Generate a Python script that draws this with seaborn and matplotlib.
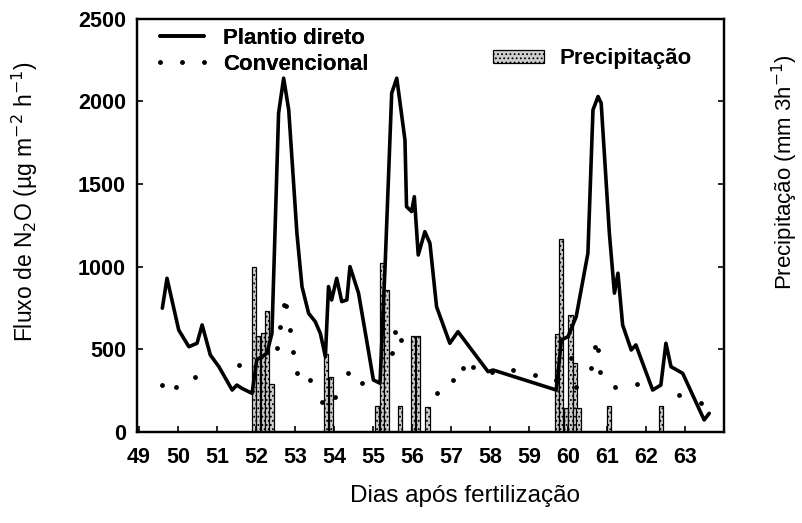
import numpy as np
import pandas as pd
import matplotlib
matplotlib.use("Agg")
import matplotlib.pyplot as plt
import seaborn as sns
from matplotlib.lines import Line2D

# Plantio direto (solid line)
pd_days = [49.60, 49.72, 50.02, 50.28, 50.49, 50.62, 50.83, 51.05, 51.39, 51.51, 51.64, 51.90,
           52.02, 52.28, 52.41, 52.58, 52.71, 52.84, 53.05, 53.18, 53.35, 53.52, 53.65, 53.78,
           53.86, 53.94, 54.07, 54.20, 54.33, 54.41, 54.63, 54.88, 55.01, 55.18, 55.31, 55.48,
           55.61, 55.82, 55.86, 55.99, 56.06, 56.16, 56.33, 56.46, 56.63, 56.97, 57.18, 57.95,
           58.08, 59.70, 59.83, 60.00, 60.21, 60.51, 60.64, 60.77, 60.85, 61.06, 61.19, 61.28,
           61.40, 61.62, 61.74, 62.17, 62.38, 62.51, 62.64, 62.94, 63.49, 63.62]
pd_flux = [749, 930, 617, 516, 537, 648, 466, 395, 254, 284, 264, 234,
           436, 476, 597, 1929, 2141, 1949, 1203, 880, 718, 668, 597, 456,
           880, 799, 930, 789, 799, 1001, 840, 496, 315, 295, 1001, 2050,
           2141, 1767, 1364, 1334, 1424, 1071, 1212, 1142, 758, 537, 607, 365,
           375, 254, 557, 577, 698, 1082, 1949, 2030, 1990, 1203, 840, 961,
           648, 496, 527, 254, 284, 537, 395, 355, 73, 113]

# Convencional (dots)
cv_days = [49.60, 49.94, 50.45, 51.56, 52.54, 52.62, 52.71, 52.76, 52.88, 52.96, 53.05, 53.39,
           53.69, 54.03, 54.37, 54.71, 55.48, 55.57, 55.73, 56.63, 57.06, 57.31, 57.57, 58.04,
           58.59, 59.15, 59.70, 60.08, 60.21, 60.60, 60.68, 60.76, 60.83, 61.21, 61.76, 62.85,
           63.40]
cv_flux = [284, 274, 335, 406, 507, 637, 769, 760, 617, 486, 355, 315,
           183, 213, 355, 295, 476, 607, 557, 234, 315, 386, 396, 365,
           375, 345, 315, 446, 274, 386, 516, 496, 365, 274, 291, 224,
           174]

# Precipitação (mm per 3 h)
rain_days = [51.95, 52.06, 52.18, 52.29, 52.40, 53.80, 53.92, 55.10, 55.23, 55.35,
             55.70, 56.03, 56.15, 56.40, 59.72, 59.82, 59.95, 60.06, 60.17, 60.27,
             61.05, 62.38]
rain_mm = [10.0, 5.8, 6.0, 7.3, 2.9, 4.7, 3.35, 1.6, 10.2, 8.6,
           1.6, 5.8, 5.8, 1.5, 5.9, 11.7, 1.45, 7.1, 4.2, 1.45,
           1.6, 1.6]

xticks = list(range(49, 64))
yticks = [0, 500, 1000, 1500, 2000, 2500]

sns.set_theme(style="ticks")
plt.rcParams['font.family'] = ['Liberation Sans', 'DejaVu Sans']
plt.rcParams['hatch.linewidth'] = 0.8
for k in ('text.color', 'axes.labelcolor', 'xtick.color', 'ytick.color', 'axes.edgecolor'):
    plt.rcParams[k] = 'black'

fig = plt.figure(figsize=(8.02, 5.23), dpi=100)
ax = fig.add_axes([0.1708, 0.174, 0.732, 0.790])
ax2 = ax.twinx()

ax2.bar(rain_days, rain_mm, width=0.11, color='#cfcfcf', edgecolor='black',
        linewidth=0.9, hatch='....', label='Precipitação', zorder=1)
ax2.set_ylim(0, 25)
ax2.set_yticks([5, 10, 15, 20, 25])
ax2.set_yticklabels([])
ax2.tick_params(axis='y', direction='in', length=4, width=1.2, right=True)
ax2.set_ylabel('Precipitação (mm 3h$^{-1}$)', fontsize=16)
ax2.yaxis.set_label_coords(1.078, 0.63)

ax.set_zorder(ax2.get_zorder() + 1)
ax.patch.set_visible(False)

df_pd = pd.DataFrame({'dia': pd_days, 'fluxo': pd_flux})
df_cv = pd.DataFrame({'dia': cv_days, 'fluxo': cv_flux})
sns.lineplot(data=df_pd, x='dia', y='fluxo', ax=ax, color='black', linewidth=2.6,
             label='Plantio direto', sort=False)
sns.scatterplot(data=df_cv, x='dia', y='fluxo', ax=ax, color='black', s=12,
                edgecolor='black', linewidth=0, label='Convencional', zorder=5)

ax.set_xlim(48.95, 64.0)
ax.set_ylim(0, 2500)
ax.set_xticks(xticks)
ax.set_yticks(yticks)
ax.tick_params(axis='both', direction='in', length=4, width=1.2, labelsize=15.5)
ax.tick_params(axis='x', pad=11)
ax.tick_params(axis='y', pad=8)
for lab in ax.get_xticklabels() + ax.get_yticklabels():
    lab.set_fontweight('bold')
ax.set_xlabel('Dias após fertilização', fontsize=17.5)
ax.xaxis.set_label_coords(0.559, -0.128)
ax.set_ylabel('Fluxo de N$_2$O (µg m$^{-2}$ h$^{-1}$)', fontsize=16.5)
ax.yaxis.set_label_coords(-0.165, 0.557)

for a in (ax, ax2):
    for sp in a.spines.values():
        sp.set_linewidth(1.6)
        sp.set_color('black')
        sp.set_visible(True)

h_line = Line2D([], [], color='black', linewidth=2.6)
h_dot = Line2D([], [], color='black', linestyle='none', marker='o', markersize=3.2,
               markeredgewidth=0)
leg1 = ax.legend([h_line, h_dot], ['Plantio direto', 'Convencional'],
                 loc='upper left', bbox_to_anchor=(0.02, 0.988), frameon=False,
                 prop={'weight': 'bold', 'size': 16}, handlelength=2.6,
                 numpoints=3, markerscale=1.0,
                 labelspacing=0.22, handletextpad=0.55, borderaxespad=0.0,
                 borderpad=0.2)
ax.add_artist(leg1)
leg2 = ax2.legend(loc='upper right', bbox_to_anchor=(0.953, 0.94), frameon=False,
                  prop={'weight': 'bold', 'size': 16}, handlelength=2.3,
                  handleheight=0.55, handletextpad=0.7, borderaxespad=0.0,
                  borderpad=0.2)

fig.savefig('out.png', dpi=100)
